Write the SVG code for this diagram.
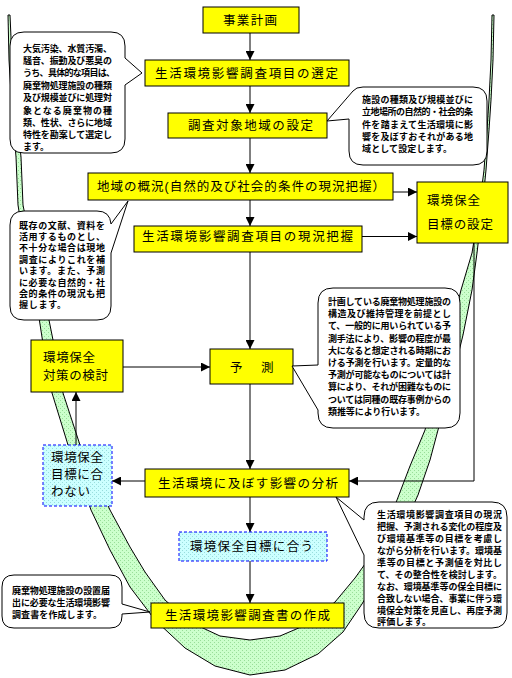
<svg xmlns="http://www.w3.org/2000/svg" width="512" height="678" viewBox="0 0 512 678">
<defs>
<style>
.n{fill:#ffff00;stroke:#000;stroke-width:1}
.d{fill:url(#pc);stroke:#0000ff;stroke-width:1;stroke-dasharray:3 2}
.c{fill:#fff;stroke:#000;stroke-width:1}
.k{stroke:#000;stroke-width:1;fill:none}
.t{font-family:'Liberation Sans','Noto Sans CJK JP','Noto Sans CJK SC',sans-serif;font-size:12.5px;fill:#000}
.s{font-family:'Liberation Sans','Noto Sans CJK JP','Noto Sans CJK SC',sans-serif;font-size:9px;font-weight:bold;fill:#000}
</style>
<pattern id="pg" width="4" height="4" patternUnits="userSpaceOnUse"><rect width="4" height="4" fill="#ccffcc"/><rect width="1" height="1" fill="#99dd99"/><rect x="2" y="2" width="1" height="1" fill="#99dd99"/></pattern>
<pattern id="pc" width="4" height="4" patternUnits="userSpaceOnUse"><rect width="4" height="4" fill="#ccffff"/><rect width="1" height="1" fill="#99dddd"/><rect x="2" y="2" width="1" height="1" fill="#99dddd"/></pattern>
<marker id="ah" viewBox="0 0 10 10" refX="10" refY="5" markerWidth="9" markerHeight="9" markerUnits="userSpaceOnUse" orient="auto"><path d="M0,0 L10,5 L0,10 Z" fill="#000"/></marker>
</defs>
<rect width="512" height="678" fill="#fff"/>
<g id="band">
<path d="M8,15 L9,60 L12,110 L16,157 L18,205 L26,255 L37,305 L44,350 L52,393 L68,445 L91,510 L110,550 L130,587 L155,620 L185,648 L215,666 L250,675 L285,670 L318,654 L343,632 L362,604 L385,565 L400,535 L418,495 L430,460 L438,430 L452,380 L463,335 L472,290 L477,253 L482,210 L486,170 L489,130 L491,100 L493,60 L494,15 L492,15 L491,60 L489,100 L487,130 L484,170 L479,210 L472,253 L461,290 L450,335 L438,380 L425,430 L410,466 L397,500 L385,530 L370,557 L355,578 L335,602 L308,624 L280,636 L250,640 L220,636 L190,622 L165,600 L145,572 L130,547 L110,510 L80,445 L63,393 L55,350 L46,305 L33,255 L23,205 L21,157 L16,110 L12,60 L10,15 Z" fill="url(#pg)" stroke="#000" stroke-width="1"/>
</g>
<g id="connectors">
<path class="k" d="M250,33 V60" marker-end="url(#ah)"/>
<path class="k" d="M250,86 V113" marker-end="url(#ah)"/>
<path class="k" d="M250,138 V173" marker-end="url(#ah)"/>
<path class="k" d="M250,200 V226" marker-end="url(#ah)"/>
<path class="k" d="M250,252 V349" marker-end="url(#ah)"/>
<path class="k" d="M250,384 V469" marker-end="url(#ah)"/>
<path class="k" d="M250,497 V532" marker-end="url(#ah)"/>
<path class="k" d="M250,561 V603" marker-end="url(#ah)"/>
<path class="k" d="M393,192 H417" marker-end="url(#ah)"/>
<path class="k" d="M362,236.5 H417" marker-end="url(#ah)"/>
<path class="k" d="M474,243 V481 H349" marker-end="url(#ah)"/>
<path class="k" d="M145,481 H112" marker-end="url(#ah)"/>
<path class="k" d="M76,445 V392" marker-end="url(#ah)"/>
<path class="k" d="M123,367 H210" marker-end="url(#ah)"/>
</g>
<g id="n1"><rect class="n" x="203" y="7" width="96" height="26"/><text class="t" x="223" y="24.5" textLength="54" lengthAdjust="spacing">事業計画</text></g>
<g id="n2"><rect class="n" x="145" y="60" width="204" height="26"/><text class="t" x="155" y="77.5" textLength="183" lengthAdjust="spacing">生活環境影響調査項目の選定</text></g>
<g id="n3"><rect class="n" x="168" y="113" width="159" height="25"/><text class="t" x="188" y="129.5" textLength="125" lengthAdjust="spacing">調査対象地域の設定</text></g>
<g id="n4"><rect class="n" x="88" y="173" width="305" height="27"/><text class="t" x="97" y="190.5" textLength="288" lengthAdjust="spacing">地域の概況(自然的及び社会的条件の現況把握）</text></g>
<g id="n5"><rect class="n" x="134" y="226" width="228" height="26"/><text class="t" x="142" y="241" textLength="211" lengthAdjust="spacing">生活環境影響調査項目の現況把握</text></g>
<g id="n6"><rect class="n" x="417" y="182" width="91" height="61"/><text class="t" x="427" y="204.5" textLength="53" lengthAdjust="spacing">環境保全</text><text class="t" x="427" y="228.5" textLength="66" lengthAdjust="spacing">目標の設定</text></g>
<g id="n7"><rect class="n" x="31" y="340" width="92" height="52"/><text class="t" x="43" y="361.5" textLength="52" lengthAdjust="spacing">環境保全</text><text class="t" x="43" y="379.5" textLength="65" lengthAdjust="spacing">対策の検討</text></g>
<g id="n8"><rect class="n" x="210" y="349" width="83" height="35"/><text class="t" x="230" y="372">予</text><text class="t" x="261" y="372">測</text></g>
<g id="n9"><rect class="d" x="43" y="445" width="69" height="61"/><text class="t" x="51" y="462" textLength="52" lengthAdjust="spacing">環境保全</text><text class="t" x="51" y="478.5" textLength="52" lengthAdjust="spacing">目標に合</text><text class="t" x="51" y="495.5" textLength="39" lengthAdjust="spacing">わない</text></g>
<g id="n10"><rect class="n" x="145" y="469" width="204" height="28"/><text class="t" x="158" y="487.5" textLength="180" lengthAdjust="spacing">生活環境に及ぼす影響の分析</text></g>
<g id="n11"><rect class="d" x="179" y="532" width="148" height="29"/><text class="t" x="190" y="551" textLength="123" lengthAdjust="spacing">環境保全目標に合う</text></g>
<g id="n12"><rect class="n" x="151" y="603" width="193" height="25"/><text class="t" x="165" y="620" textLength="165" lengthAdjust="spacing">生活環境影響調査書の作成</text></g>
<g id="c1"><path class="c" d="M24,32 H111 Q125,32 125,46 V58 L142,73 L125,85 V139 Q125,153 111,153 H24 Q10,153 10,139 V46 Q10,32 24,32 Z"/>
<text class="s" x="23" y="51.6" textLength="89" lengthAdjust="spacing">大気汚染、水質汚濁、</text>
<text class="s" x="23" y="64" textLength="89" lengthAdjust="spacing">騒音、振動及び悪臭の</text>
<text class="s" x="23" y="76.4" textLength="92" lengthAdjust="spacing">うち、具体的な項目は、</text>
<text class="s" x="23" y="88.8" textLength="89" lengthAdjust="spacing">廃棄物処理施設の種類</text>
<text class="s" x="23" y="101.2" textLength="89" lengthAdjust="spacing">及び規模並びに処理対</text>
<text class="s" x="23" y="113.6" textLength="89" lengthAdjust="spacing">象となる廃棄物の種</text>
<text class="s" x="23" y="126" textLength="89" lengthAdjust="spacing">類、性状、さらに地域</text>
<text class="s" x="23" y="138.4" textLength="89" lengthAdjust="spacing">特性を勘案して選定し</text>
<text class="s" x="23" y="150.3">ます。</text></g>
<g id="c2"><path class="c" d="M363,87 H473 Q487,87 487,101 V151 Q487,165 473,165 H363 Q349,165 349,151 V119 L327,121 L353,91 Q356,87 363,87 Z"/>
<text class="s" x="362" y="103.3" textLength="111" lengthAdjust="spacing">施設の種類及び規模並びに</text>
<text class="s" x="362" y="115.4" textLength="111" lengthAdjust="spacing">立地場所の自然的・社会的条</text>
<text class="s" x="362" y="127.5" textLength="111" lengthAdjust="spacing">件を踏まえて生活環境に影</text>
<text class="s" x="362" y="139.6" textLength="111" lengthAdjust="spacing">響を及ぼすおそれがある地</text>
<text class="s" x="362" y="151.7" textLength="90" lengthAdjust="spacing">域として設定します。</text></g>
<g id="c3"><path class="c" d="M24,211 H97 Q110,211 111,224 L128,201 L111,253 V306 Q111,320 97,320 H24 Q10,320 10,306 V225 Q10,211 24,211 Z"/>
<text class="s" x="19" y="228.5" textLength="86" lengthAdjust="spacing">既存の文献、資料を</text>
<text class="s" x="19" y="239.9" textLength="86" lengthAdjust="spacing">活用するものとし、</text>
<text class="s" x="19" y="251.3" textLength="86" lengthAdjust="spacing">不十分な場合は現地</text>
<text class="s" x="19" y="262.7" textLength="86" lengthAdjust="spacing">調査によりこれを補</text>
<text class="s" x="19" y="274.1" textLength="86" lengthAdjust="spacing">います。また、予測</text>
<text class="s" x="19" y="285.5" textLength="86" lengthAdjust="spacing">に必要な自然的・社</text>
<text class="s" x="19" y="296.9" textLength="86" lengthAdjust="spacing">会的条件の現況も把</text>
<text class="s" x="19" y="308.3" textLength="47" lengthAdjust="spacing">握します。</text></g>
<g id="c4"><path class="c" d="M333,288 H445 Q460,288 460,303 V413 Q460,428 445,428 H333 Q318,428 318,413 V410 L292,366 L318,365 V303 Q318,288 333,288 Z"/>
<text class="s" x="328" y="305" textLength="123" lengthAdjust="spacing">計画している廃棄物処理施設の</text>
<text class="s" x="328" y="317.2" textLength="123" lengthAdjust="spacing">構造及び維持管理を前提とし</text>
<text class="s" x="328" y="329.4" textLength="123" lengthAdjust="spacing">て、一般的に用いられている予</text>
<text class="s" x="328" y="341.6" textLength="123" lengthAdjust="spacing">測手法により、影響の程度が最</text>
<text class="s" x="328" y="353.8" textLength="123" lengthAdjust="spacing">大になると想定される時期にお</text>
<text class="s" x="328" y="366" textLength="123" lengthAdjust="spacing">ける予測を行います。定量的な</text>
<text class="s" x="328" y="378.2" textLength="123" lengthAdjust="spacing">予測が可能なものについては計</text>
<text class="s" x="328" y="390.4" textLength="123" lengthAdjust="spacing">算により、それが困難なものに</text>
<text class="s" x="328" y="402.6" textLength="123" lengthAdjust="spacing">ついては同種の既存事例からの</text>
<text class="s" x="328" y="414.8" textLength="97" lengthAdjust="spacing">類推等により行います。</text></g>
<g id="c5"><path class="c" d="M379,502 H492 Q507,502 507,517 V613 Q507,628 492,628 H379 Q364,628 364,613 V555 L336,497 L364,520 V517 Q364,502 379,502 Z"/>
<text class="s" x="377" y="518.3" textLength="125" lengthAdjust="spacing">生活環境影響調査項目の現況</text>
<text class="s" x="377" y="530.2" textLength="125" lengthAdjust="spacing">把握、予測される変化の程度及</text>
<text class="s" x="377" y="542.1" textLength="125" lengthAdjust="spacing">び環境基準等の目標を考慮し</text>
<text class="s" x="377" y="554" textLength="125" lengthAdjust="spacing">ながら分析を行います。環境基</text>
<text class="s" x="377" y="565.9" textLength="125" lengthAdjust="spacing">準等の目標と予測値を対比し</text>
<text class="s" x="377" y="577.8" textLength="125" lengthAdjust="spacing">て、その整合性を検討します。</text>
<text class="s" x="377" y="589.7" textLength="125" lengthAdjust="spacing">なお、環境基準等の保全目標に</text>
<text class="s" x="377" y="601.6" textLength="125" lengthAdjust="spacing">合致しない場合、事業に伴う環</text>
<text class="s" x="377" y="613.5" textLength="125" lengthAdjust="spacing">境保全対策を見直し、再度予測</text>
<text class="s" x="377" y="625.2" textLength="54" lengthAdjust="spacing">評価します。</text></g>
<g id="c6"><path class="c" d="M14,575 H110 Q122,575 122,587 V604 L150,612 L122,614 V616 Q122,628 110,628 H14 Q2,628 2,616 V587 Q2,575 14,575 Z"/>
<text class="s" x="12" y="594.2" textLength="98" lengthAdjust="spacing">廃棄物処理施設の設置届</text>
<text class="s" x="12" y="606.4" textLength="98" lengthAdjust="spacing">出に必要な生活環境影響</text>
<text class="s" x="12" y="618.4" textLength="90" lengthAdjust="spacing">調査書を作成します。</text></g>
</svg>
